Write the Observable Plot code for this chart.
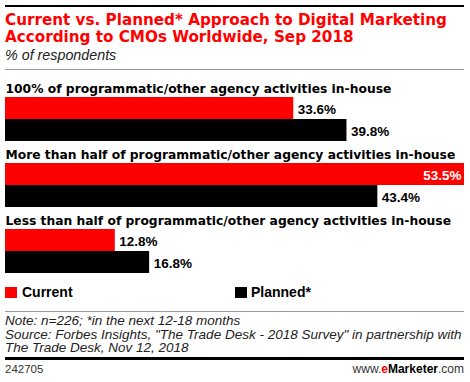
<!DOCTYPE html>
<html>
<head>
<meta charset="utf-8">
<script src="https://cdn.jsdelivr.net/npm/d3@7"></script>
<script src="https://cdn.jsdelivr.net/npm/@observablehq/plot@0.6"></script>
<style>
  html, body { margin: 0; padding: 0; background: #fff; }
  body { width: 470px; height: 382px; position: relative; overflow: hidden; font-family: "Liberation Sans", Arial, sans-serif; }
  .abs { position: absolute; white-space: nowrap; }
  .rule { position: absolute; left: 5px; width: 459px; }
  .title { left: 5px; font-family: "DejaVu Sans", sans-serif; font-size: 15.2px; line-height: 15.2px; font-weight: bold; color: #ff0000; }
  #subtitle { left: 5px; top: 47px; font-size: 14.3px; line-height: 16px; font-style: italic; color: #222; }
  #chart { position: absolute; left: 0; top: 75px; }
  .sw { position: absolute; width: 12px; height: 11px; top: 287px; }
  .lg { top: 285px; font-size: 14px; line-height: 14px; font-weight: bold; color: #000; }
  .note { left: 5px; font-size: 13.5px; line-height: 13.5px; font-style: italic; color: #222; }
  #id { left: 5px; top: 363px; font-size: 11.5px; line-height: 12px; color: #333; }
  #brand { right: 6px; top: 363px; font-size: 12px; line-height: 12px; color: #333; }
</style>
</head>
<body>
<div class="rule" style="top:5px;height:2px;background:#000"></div>
<div class="abs title" style="top:12.5px">Current vs. Planned* Approach to Digital Marketing</div>
<div class="abs title" style="top:30.2px">According to CMOs Worldwide, Sep 2018</div>
<div id="subtitle" class="abs">% of respondents</div>
<div class="rule" style="top:69px;height:1px;background:#999"></div>
<div id="chart"></div>
<div class="sw" style="left:5px;background:#ff0000"></div>
<div class="abs lg" style="left:22px">Current</div>
<div class="sw" style="left:235px;background:#000"></div>
<div class="abs lg" style="left:251px">Planned*</div>
<div class="rule" style="top:311px;height:1px;background:#999"></div>
<div class="abs note" style="top:314px">Note: n=226; *in the next 12-18 months</div>
<div class="abs note" style="top:327.5px">Source: Forbes Insights, "The Trade Desk - 2018 Survey" in partnership with</div>
<div class="abs note" style="top:341px">The Trade Desk, Nov 12, 2018</div>
<div class="rule" style="top:357px;height:3px;background:#000"></div>
<div id="id" class="abs">242705</div>
<div id="brand" class="abs">www.<span style="color:#ff0000;font-weight:bold">e</span><span style="font-weight:bold;color:#000">Marketer</span>.com</div>
<script>
const categories = [
  "100% of programmatic/other agency activities in-house",
  "More than half of programmatic/other agency activities in-house",
  "Less than half of programmatic/other agency activities in-house"
];
const series = ["Current", "Planned*"];
const current = [33.6, 53.5, 12.8];
const planned = [39.8, 43.4, 16.8];
const colors = ["#ff0000", "#000000"];

const rows = [];
const labels = [];
const bars = [];
categories.forEach((c, i) => {
  rows.push(`L${i}`, `C${i}`, `P${i}`);
  labels.push({row: `L${i}`, text: c});
  bars.push({row: `C${i}`, series: series[0], value: current[i]});
  bars.push({row: `P${i}`, series: series[1], value: planned[i]});
});
const maxV = d3.max(bars, d => d.value);
const inside = bars.filter(d => d.value === maxV);
const outside = bars.filter(d => d.value !== maxV);

const chart = Plot.plot({
  width: 470,
  height: 198,
  marginLeft: 5,
  marginRight: 6,
  marginTop: 0,
  marginBottom: 0,
  x: {domain: [0, maxV], axis: null},
  y: {domain: rows, axis: null, padding: 0},
  color: {domain: series, range: colors},
  style: {fontFamily: "Liberation Sans, Arial, sans-serif"},
  marks: [
    Plot.barX(bars, {x: "value", y: "row", fill: "series", insetTop: 0, insetBottom: 0}),
    Plot.text(labels, {x: 0, y: "row", text: "text", textAnchor: "start", dy: 3, fontSize: 12.3, fontWeight: "bold", fill: "#000", fontFamily: "DejaVu Sans, sans-serif"}),
    Plot.text(outside, {x: "value", y: "row", text: d => d.value.toFixed(1) + "%", textAnchor: "start", dx: 4, dy: 1, fontSize: 13.5, fontWeight: "bold", fill: "#000"}),
    Plot.text(inside, {x: "value", y: "row", text: d => d.value.toFixed(1) + "%", textAnchor: "end", dx: -3, dy: 1, fontSize: 13.5, fontWeight: "bold", fill: "#fff"})
  ]
});
document.getElementById("chart").appendChild(chart);
</script>
</body>
</html>
